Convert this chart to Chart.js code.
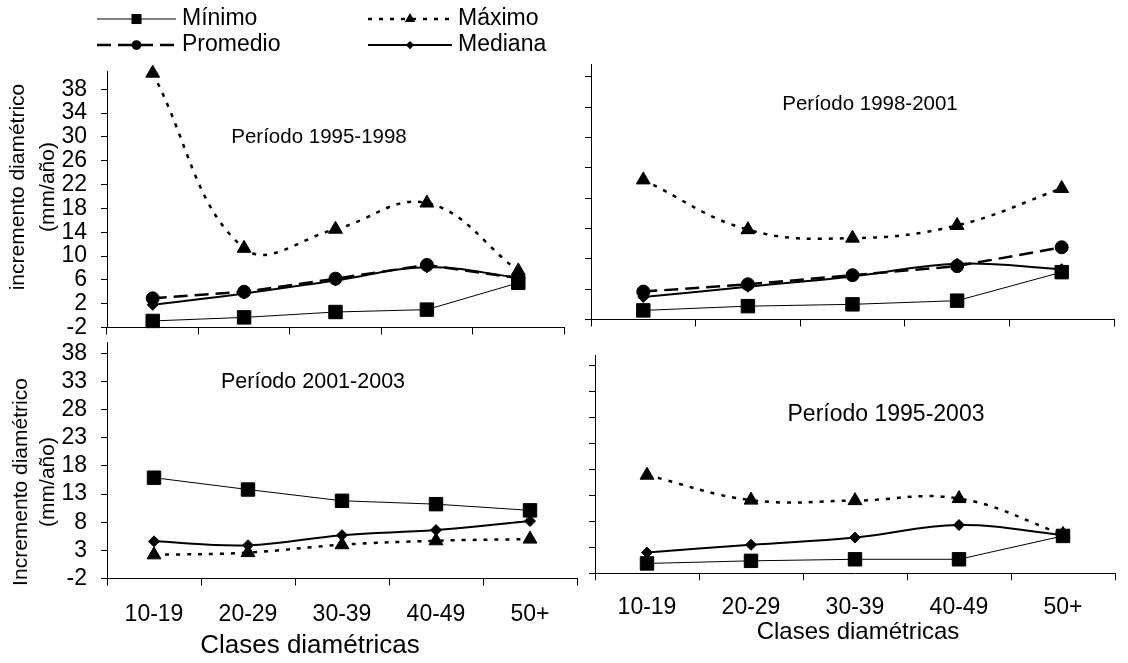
<!DOCTYPE html>
<html>
<head>
<meta charset="utf-8">
<script src="https://cdn.jsdelivr.net/npm/chart.js@4.4.1/dist/chart.umd.min.js"></script>
<style>
html, body { margin: 0; padding: 0; background: #fff; }
#wrap { position: relative; width: 1128px; height: 663px; overflow: hidden; }
#wrap canvas { position: absolute; left: 0; top: 0; }
</style>
</head>
<body>
<div id="wrap">
	<canvas id="p1" width="1128" height="663"></canvas>
	<canvas id="p2" width="1128" height="663"></canvas>
	<canvas id="p3" width="1128" height="663"></canvas>
	<canvas id="p4" width="1128" height="663"></canvas>
</div>
<script>
// clases diametricas (eje x) y marcas del eje y
const categorias = ['10-19', '20-29', '30-39', '40-49', '50+'];
const ticksPaso4 = [-2, 2, 6, 10, 14, 18, 22, 26, 30, 34, 38];
const ticksPaso5 = [-2, 3, 8, 13, 18, 23, 28, 33, 38];

// Periodo 1995-1998
const minimo_95_98 = [-0.9, -0.3, 0.6, 1.0, 5.5];
const maximo_95_98 = [40.7, 11.3, 14.5, 18.9, 7.5];
const promedio_95_98 = [2.9, 4.0, 6.2, 8.5, 6.3];
const mediana_95_98 = [1.8, 3.7, 5.9, 8.1, 6.4];

// Periodo 1998-2001
const minimo_98_01 = [-0.5, 0.2, 0.5, 1.1, 5.8];
const maximo_98_01 = [21.0, 12.8, 11.4, 13.5, 19.6];
const promedio_98_01 = [2.6, 3.8, 5.3, 6.8, 9.9];
const mediana_98_01 = [1.7, 3.4, 5.1, 7.2, 6.3];

// Periodo 2001-2003 (sin promedio)
const minimo_01_03 = [15.9, 13.8, 11.8, 11.2, 10.1];
const maximo_01_03 = [2.2, 2.6, 4.0, 4.7, 5.0];
const mediana_01_03 = [4.6, 3.9, 5.7, 6.6, 8.2];

// Periodo 1995-2003 (sin promedio)
const minimo_95_03 = [-0.1, 0.4, 0.7, 0.7, 5.2];
const maximo_95_03 = [16.9, 12.1, 12.0, 12.4, 5.5];
const mediana_95_03 = [2.0, 3.5, 4.9, 7.3, 5.4];

const FUENTE = "'Liberation Sans', Arial, sans-serif";

const estilos = {
	'Mínimo':   { borderWidth: 1,   borderDash: [],      pointStyle: 'rect',     pointRadius: 9.5, tension: 0 },
	'Máximo':   { borderWidth: 2.5, borderDash: [4, 7],  pointStyle: 'triangle', pointRadius: 8,   tension: 0.4 },
	'Promedio': { borderWidth: 2.5, borderDash: [14, 7], pointStyle: 'circle',   pointRadius: 6.5, tension: 0 },
	'Mediana':  { borderWidth: 2,   borderDash: [],      pointStyle: 'rectRot',  pointRadius: 5.5, tension: 0.4 }
};

function serie(nombre, valores) {
	return Object.assign({
		label: nombre,
		data: valores,
		borderColor: '#000',
		backgroundColor: '#000',
		pointBackgroundColor: '#000',
		pointBorderColor: '#000',
		pointBorderWidth: 1,
		pointHoverRadius: 0,
		fill: false,
		clip: false
	}, estilos[nombre]);
}

// textos libres: titulos de periodo y de ejes
const textosPlugin = {
	id: 'textos',
	afterDraw(chart, args, opts) {
		const ctx = chart.ctx;
		(opts.items || []).forEach(it => {
			ctx.save();
			ctx.fillStyle = '#000';
			ctx.font = it.size + 'px ' + FUENTE;
			ctx.textAlign = 'center';
			ctx.textBaseline = 'middle';
			ctx.translate(it.x, it.y);
			if (it.rot) ctx.rotate(-Math.PI / 2);
			ctx.fillText(it.text, 0, 0);
			ctx.restore();
		});
	}
};

function marcador(ctx, estilo, r, x, y) {
	ctx.beginPath();
	if (estilo === 'rect') {
		const s = r * Math.SQRT1_2;
		ctx.rect(x - s, y - s, 2 * s, 2 * s);
	} else if (estilo === 'triangle') {
		ctx.moveTo(x, y - r);
		ctx.lineTo(x + r * Math.sin(2 * Math.PI / 3), y - r * Math.cos(2 * Math.PI / 3));
		ctx.lineTo(x + r * Math.sin(4 * Math.PI / 3), y - r * Math.cos(4 * Math.PI / 3));
		ctx.closePath();
	} else if (estilo === 'circle') {
		ctx.arc(x, y, r, 0, Math.PI * 2);
	} else if (estilo === 'rectRot') {
		ctx.moveTo(x, y - r); ctx.lineTo(x + r, y); ctx.lineTo(x, y + r); ctx.lineTo(x - r, y);
		ctx.closePath();
	}
	ctx.fill();
}

// leyenda 2x2 como en el original
const leyendaPlugin = {
	id: 'leyenda',
	afterDraw(chart, args, opts) {
		if (!opts.display) return;
		const ctx = chart.ctx;
		opts.items.forEach(it => {
			const ds = chart.data.datasets.find(d => d.label === it.label);
			ctx.save();
			ctx.strokeStyle = '#000';
			ctx.fillStyle = '#000';
			ctx.lineWidth = ds.borderWidth;
			ctx.setLineDash(ds.borderDash);
			ctx.beginPath();
			ctx.moveTo(it.x0, it.y);
			ctx.lineTo(it.x1, it.y);
			ctx.stroke();
			ctx.setLineDash([]);
			marcador(ctx, ds.pointStyle, ds.pointRadius * 0.75, (it.x0 + it.x1) / 2, it.y);
			ctx.font = '23px ' + FUENTE;
			ctx.textAlign = 'left';
			ctx.textBaseline = 'middle';
			ctx.fillText(it.label, it.x1 + 6, it.y);
			ctx.restore();
		});
	}
};

const ANCHO_Y = 70;   // ancho reservado a las etiquetas del eje y
const ALTO_X = 55;    // alto reservado a las etiquetas del eje x

function panel(id, p) {
	const area = p.area; // left, top, right, bottom de la zona de trazado
	new Chart(document.getElementById(id), {
		type: 'line',
		data: { labels: categorias, datasets: p.datasets },
		plugins: [textosPlugin, leyendaPlugin],
		options: {
			responsive: false,
			animation: false,
			events: [],
			layout: { padding: { left: area.left - ANCHO_Y, top: area.top, right: 1128 - area.right, bottom: 663 - area.bottom - ALTO_X } },
			plugins: {
				legend: { display: false },
				tooltip: { enabled: false },
				textos: { items: p.textos },
				leyenda: p.leyenda || { display: false }
			},
			scales: {
				x: {
					type: 'category',
					offset: true,
					grid: { offset: true, drawOnChartArea: false, drawTicks: true, tickLength: 7, color: '#000' },
					border: { display: true, color: '#000', width: 1 },
					ticks: { display: p.xLabels, color: '#000', font: { family: FUENTE, size: 23 }, padding: p.xPad || 15, maxRotation: 0, autoSkip: false },
					afterFit(s) { s.height = ALTO_X; }
				},
				y: {
					type: 'linear',
					min: -2,
					max: p.max,
					afterBuildTicks(s) { s.ticks = p.ticks.map(v => ({ value: v })); },
					grid: { drawOnChartArea: false, drawTicks: true, tickLength: 6, color: '#000' },
					border: { display: true, color: '#000', width: 1 },
					ticks: { display: p.yLabels, autoSkip: false, color: '#000', font: { family: FUENTE, size: 23 }, padding: 14 },
					afterFit(s) { s.width = ANCHO_Y; }
				}
			}
		}
	});
}

panel('p1', {
	area: { left: 107, top: 71.4, right: 564, bottom: 327.5 },
	max: 41, ticks: ticksPaso4, xLabels: false, yLabels: true,
	datasets: [
		serie('Mínimo', minimo_95_98),
		serie('Máximo', maximo_95_98),
		serie('Promedio', promedio_95_98),
		serie('Mediana', mediana_95_98)
	],
	textos: [
		{ text: 'Período 1995-1998', x: 319, y: 137, size: 20.5 },
		{ text: 'incremento diamétrico', x: 18, y: 187, size: 21, rot: true },
		{ text: '(mm/año)', x: 48, y: 187, size: 21, rot: true }
	],
	leyenda: {
		display: true,
		items: [
			{ label: 'Mínimo', x0: 97, x1: 176, y: 19 },
			{ label: 'Máximo', x0: 368, x1: 452, y: 19 },
			{ label: 'Promedio', x0: 97, x1: 176, y: 45 },
			{ label: 'Mediana', x0: 368, x1: 452, y: 45 }
		]
	}
});

panel('p2', {
	area: { left: 591, top: 64.6, right: 1114, bottom: 319.5 },
	max: 40, ticks: ticksPaso5, xLabels: false, yLabels: false,
	datasets: [
		serie('Mínimo', minimo_98_01),
		serie('Máximo', maximo_98_01),
		serie('Promedio', promedio_98_01),
		serie('Mediana', mediana_98_01)
	],
	textos: [
		{ text: 'Período 1998-2001', x: 870, y: 104, size: 20.5 }
	]
});

panel('p3', {
	area: { left: 107, top: 342, right: 577, bottom: 578.5 },
	max: 40, ticks: ticksPaso5, xLabels: true, yLabels: true, xPad: 15,
	datasets: [
		serie('Mínimo', minimo_01_03),
		serie('Máximo', maximo_01_03),
		serie('Mediana', mediana_01_03)
	],
	textos: [
		{ text: 'Período 2001-2003', x: 313, y: 382, size: 21.5 },
		{ text: 'Incremento diamétrico', x: 21, y: 482, size: 21, rot: true },
		{ text: '(mm/año)', x: 48, y: 482, size: 21, rot: true },
		{ text: 'Clases diamétricas', x: 310, y: 646, size: 26 }
	]
});

panel('p4', {
	area: { left: 595, top: 355.3, right: 1115, bottom: 573.3 },
	max: 40, ticks: ticksPaso5, xLabels: true, yLabels: false, xPad: 14,
	datasets: [
		serie('Mínimo', minimo_95_03),
		serie('Máximo', maximo_95_03),
		serie('Mediana', mediana_95_03)
	],
	textos: [
		{ text: 'Período 1995-2003', x: 886, y: 415, size: 23 },
		{ text: 'Clases diamétricas', x: 858, y: 632, size: 24 }
	]
});
</script>
</body>
</html>
